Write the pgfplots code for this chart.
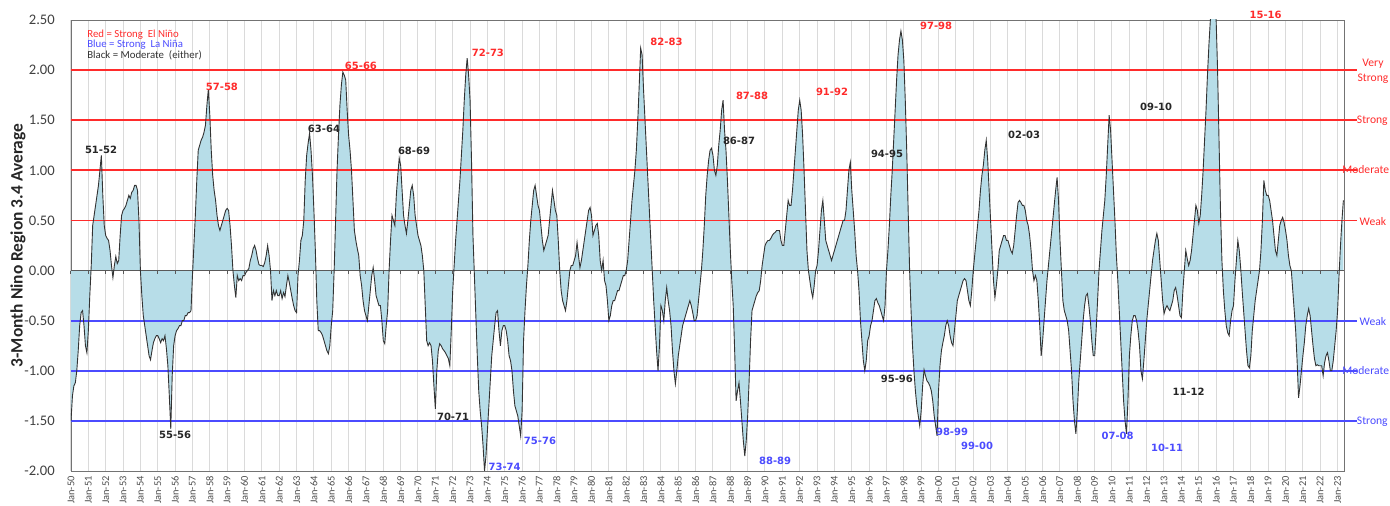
\documentclass[border=0pt]{standalone}
\usepackage{fontspec}
\setmainfont{Carlito}
\newfontfamily\dejavu{DejaVu Sans}
\usepackage{pgfplots}
\usepackage{pgfplotstable}
\pgfplotsset{compat=1.18}

\definecolor{nred}{HTML}{FF2B2B}
\definecolor{nblue}{HTML}{4B4BFF}
\definecolor{fillblue}{HTML}{B7DDE8}
\definecolor{gridgray}{HTML}{DADADA}

% 3-month Nino 3.4 average, one value per month from Jan 1950
\pgfplotstableread[row sep=\\, header=false]{
-1.50\\ -1.25\\ -1.15\\ -1.12\\ -1.00\\ -0.80\\ -0.55\\ -0.42\\ -0.40\\ -0.55\\ -0.75\\ -0.82\\
-0.60\\ -0.25\\ 0.05\\ 0.45\\ 0.55\\ 0.65\\ 0.75\\ 0.85\\ 1.00\\ 1.15\\ 0.75\\ 0.45\\
0.35\\ 0.32\\ 0.30\\ 0.20\\ 0.05\\ -0.07\\ 0.05\\ 0.14\\ 0.07\\ 0.10\\ 0.35\\ 0.55\\
0.60\\ 0.62\\ 0.65\\ 0.70\\ 0.75\\ 0.72\\ 0.78\\ 0.80\\ 0.85\\ 0.85\\ 0.80\\ 0.50\\
0.00\\ -0.25\\ -0.45\\ -0.55\\ -0.65\\ -0.75\\ -0.85\\ -0.89\\ -0.80\\ -0.72\\ -0.68\\ -0.65\\
-0.65\\ -0.68\\ -0.72\\ -0.68\\ -0.70\\ -0.65\\ -0.78\\ -0.95\\ -1.25\\ -1.58\\ -1.05\\ -0.75\\
-0.65\\ -0.60\\ -0.58\\ -0.55\\ -0.55\\ -0.50\\ -0.50\\ -0.45\\ -0.45\\ -0.42\\ -0.42\\ -0.40\\
-0.05\\ 0.25\\ 0.55\\ 0.90\\ 1.20\\ 1.25\\ 1.30\\ 1.33\\ 1.38\\ 1.45\\ 1.65\\ 1.81\\
1.55\\ 1.20\\ 0.95\\ 0.80\\ 0.70\\ 0.55\\ 0.45\\ 0.40\\ 0.45\\ 0.50\\ 0.55\\ 0.60\\
0.62\\ 0.60\\ 0.45\\ 0.25\\ 0.00\\ -0.15\\ -0.27\\ -0.05\\ -0.10\\ -0.08\\ -0.10\\ -0.05\\
-0.05\\ -0.02\\ 0.00\\ 0.02\\ 0.10\\ 0.15\\ 0.22\\ 0.25\\ 0.20\\ 0.12\\ 0.06\\ 0.05\\
0.05\\ 0.04\\ 0.08\\ 0.15\\ 0.25\\ 0.15\\ 0.00\\ -0.30\\ -0.20\\ -0.25\\ -0.20\\ -0.25\\
-0.25\\ -0.20\\ -0.28\\ -0.22\\ -0.26\\ -0.15\\ -0.05\\ -0.12\\ -0.20\\ -0.28\\ -0.35\\ -0.40\\
-0.42\\ -0.05\\ 0.10\\ 0.30\\ 0.35\\ 0.50\\ 0.90\\ 1.15\\ 1.27\\ 1.37\\ 1.20\\ 0.95\\
0.60\\ 0.20\\ -0.30\\ -0.60\\ -0.60\\ -0.62\\ -0.65\\ -0.70\\ -0.75\\ -0.80\\ -0.83\\ -0.75\\
-0.55\\ -0.40\\ 0.00\\ 0.50\\ 1.00\\ 1.35\\ 1.65\\ 1.85\\ 1.98\\ 1.95\\ 1.90\\ 1.60\\
1.35\\ 1.20\\ 1.00\\ 0.70\\ 0.40\\ 0.30\\ 0.22\\ 0.15\\ -0.05\\ -0.15\\ -0.30\\ -0.40\\
-0.45\\ -0.50\\ -0.35\\ -0.20\\ -0.05\\ 0.03\\ -0.10\\ -0.25\\ -0.30\\ -0.35\\ -0.35\\ -0.50\\
-0.70\\ -0.73\\ -0.55\\ -0.40\\ 0.00\\ 0.30\\ 0.55\\ 0.50\\ 0.45\\ 0.75\\ 0.95\\ 1.12\\
1.05\\ 0.80\\ 0.55\\ 0.45\\ 0.37\\ 0.50\\ 0.65\\ 0.80\\ 0.85\\ 0.75\\ 0.55\\ 0.45\\
0.35\\ 0.30\\ 0.25\\ 0.15\\ 0.00\\ -0.35\\ -0.70\\ -0.75\\ -0.72\\ -0.75\\ -0.90\\ -1.15\\
-1.38\\ -1.00\\ -0.80\\ -0.73\\ -0.75\\ -0.78\\ -0.80\\ -0.82\\ -0.85\\ -0.88\\ -0.95\\ -0.60\\
-0.20\\ 0.05\\ 0.30\\ 0.50\\ 0.70\\ 0.90\\ 1.15\\ 1.40\\ 1.70\\ 1.95\\ 2.12\\ 1.95\\
1.70\\ 1.10\\ 0.35\\ -0.05\\ -0.45\\ -0.85\\ -1.20\\ -1.40\\ -1.55\\ -1.75\\ -2.00\\ -1.85\\
-1.60\\ -1.35\\ -1.10\\ -0.85\\ -0.70\\ -0.55\\ -0.42\\ -0.40\\ -0.60\\ -0.75\\ -0.60\\ -0.55\\
-0.55\\ -0.60\\ -0.70\\ -0.85\\ -0.90\\ -1.00\\ -1.20\\ -1.35\\ -1.40\\ -1.45\\ -1.55\\ -1.65\\
-1.40\\ -0.70\\ -0.40\\ -0.15\\ 0.05\\ 0.30\\ 0.50\\ 0.65\\ 0.80\\ 0.85\\ 0.75\\ 0.65\\
0.60\\ 0.45\\ 0.30\\ 0.20\\ 0.25\\ 0.30\\ 0.35\\ 0.50\\ 0.65\\ 0.80\\ 0.70\\ 0.60\\
0.55\\ 0.30\\ 0.00\\ -0.20\\ -0.30\\ -0.35\\ -0.40\\ -0.30\\ -0.15\\ 0.00\\ 0.05\\ 0.05\\
0.10\\ 0.15\\ 0.28\\ 0.15\\ 0.03\\ 0.10\\ 0.20\\ 0.30\\ 0.40\\ 0.50\\ 0.60\\ 0.63\\
0.55\\ 0.35\\ 0.40\\ 0.45\\ 0.47\\ 0.35\\ 0.10\\ 0.00\\ 0.10\\ -0.10\\ -0.15\\ -0.30\\
-0.50\\ -0.45\\ -0.35\\ -0.30\\ -0.30\\ -0.25\\ -0.20\\ -0.20\\ -0.15\\ -0.10\\ -0.05\\ -0.05\\
0.00\\ 0.10\\ 0.30\\ 0.50\\ 0.70\\ 0.85\\ 1.00\\ 1.20\\ 1.50\\ 1.85\\ 2.22\\ 2.15\\
1.80\\ 1.50\\ 1.20\\ 0.90\\ 0.60\\ 0.30\\ 0.00\\ -0.30\\ -0.55\\ -0.80\\ -1.00\\ -0.75\\
-0.35\\ -0.40\\ -0.50\\ -0.30\\ -0.17\\ -0.30\\ -0.40\\ -0.55\\ -0.80\\ -1.00\\ -1.13\\ -1.00\\
-0.85\\ -0.75\\ -0.65\\ -0.55\\ -0.50\\ -0.45\\ -0.40\\ -0.35\\ -0.30\\ -0.35\\ -0.42\\ -0.50\\
-0.50\\ -0.45\\ -0.30\\ -0.15\\ 0.00\\ 0.20\\ 0.45\\ 0.75\\ 0.95\\ 1.10\\ 1.20\\ 1.22\\
1.15\\ 1.00\\ 0.95\\ 1.05\\ 1.25\\ 1.40\\ 1.60\\ 1.70\\ 1.40\\ 1.20\\ 0.90\\ 0.55\\
0.20\\ -0.10\\ -0.35\\ -0.80\\ -1.30\\ -1.20\\ -1.12\\ -1.30\\ -1.50\\ -1.70\\ -1.85\\ -1.70\\
-1.45\\ -1.10\\ -0.70\\ -0.40\\ -0.35\\ -0.30\\ -0.25\\ -0.22\\ -0.20\\ -0.10\\ 0.05\\ 0.15\\
0.25\\ 0.28\\ 0.30\\ 0.30\\ 0.32\\ 0.35\\ 0.37\\ 0.38\\ 0.40\\ 0.40\\ 0.40\\ 0.30\\
0.25\\ 0.25\\ 0.40\\ 0.55\\ 0.70\\ 0.65\\ 0.65\\ 0.80\\ 1.00\\ 1.20\\ 1.40\\ 1.60\\
1.70\\ 1.60\\ 1.35\\ 1.00\\ 0.60\\ 0.20\\ 0.00\\ -0.10\\ -0.20\\ -0.27\\ -0.15\\ 0.00\\
0.05\\ 0.20\\ 0.40\\ 0.60\\ 0.70\\ 0.50\\ 0.30\\ 0.25\\ 0.20\\ 0.15\\ 0.10\\ 0.15\\
0.20\\ 0.25\\ 0.30\\ 0.35\\ 0.40\\ 0.45\\ 0.50\\ 0.50\\ 0.60\\ 0.80\\ 1.00\\ 1.08\\
0.80\\ 0.60\\ 0.40\\ 0.15\\ 0.00\\ -0.20\\ -0.50\\ -0.70\\ -0.90\\ -1.00\\ -0.90\\ -0.70\\
-0.65\\ -0.55\\ -0.50\\ -0.40\\ -0.30\\ -0.28\\ -0.32\\ -0.35\\ -0.40\\ -0.45\\ -0.50\\ -0.35\\
0.00\\ 0.20\\ 0.45\\ 0.75\\ 1.00\\ 1.30\\ 1.60\\ 1.90\\ 2.15\\ 2.30\\ 2.39\\ 2.30\\
2.10\\ 1.70\\ 1.20\\ 0.60\\ 0.00\\ -0.40\\ -0.75\\ -1.00\\ -1.20\\ -1.35\\ -1.45\\ -1.55\\
-1.40\\ -1.15\\ -0.99\\ -1.05\\ -1.10\\ -1.12\\ -1.15\\ -1.20\\ -1.30\\ -1.45\\ -1.55\\ -1.65\\
-1.20\\ -0.95\\ -0.80\\ -0.72\\ -0.65\\ -0.55\\ -0.50\\ -0.55\\ -0.65\\ -0.72\\ -0.75\\ -0.60\\
-0.45\\ -0.30\\ -0.25\\ -0.20\\ -0.15\\ -0.10\\ -0.08\\ -0.10\\ -0.20\\ -0.30\\ -0.35\\ -0.20\\
0.00\\ 0.15\\ 0.30\\ 0.45\\ 0.60\\ 0.80\\ 0.95\\ 1.05\\ 1.20\\ 1.30\\ 1.10\\ 0.80\\
0.50\\ 0.20\\ -0.10\\ -0.27\\ -0.15\\ 0.00\\ 0.20\\ 0.25\\ 0.30\\ 0.35\\ 0.35\\ 0.30\\
0.30\\ 0.25\\ 0.20\\ 0.17\\ 0.25\\ 0.40\\ 0.55\\ 0.68\\ 0.70\\ 0.68\\ 0.65\\ 0.65\\
0.60\\ 0.50\\ 0.45\\ 0.35\\ 0.20\\ 0.00\\ -0.10\\ -0.05\\ -0.10\\ -0.30\\ -0.55\\ -0.85\\
-0.70\\ -0.50\\ -0.30\\ -0.10\\ 0.05\\ 0.20\\ 0.35\\ 0.50\\ 0.65\\ 0.80\\ 0.93\\ 0.70\\
0.30\\ 0.00\\ -0.30\\ -0.40\\ -0.45\\ -0.50\\ -0.60\\ -0.80\\ -1.00\\ -1.30\\ -1.50\\ -1.63\\
-1.40\\ -1.10\\ -0.90\\ -0.70\\ -0.50\\ -0.35\\ -0.25\\ -0.23\\ -0.35\\ -0.50\\ -0.70\\ -0.85\\
-0.85\\ -0.60\\ -0.30\\ 0.00\\ 0.20\\ 0.40\\ 0.55\\ 0.70\\ 0.95\\ 1.25\\ 1.55\\ 1.40\\
1.10\\ 0.80\\ 0.50\\ 0.15\\ -0.10\\ -0.40\\ -0.70\\ -1.00\\ -1.30\\ -1.50\\ -1.63\\ -1.30\\
-0.85\\ -0.65\\ -0.50\\ -0.45\\ -0.45\\ -0.50\\ -0.60\\ -0.75\\ -1.00\\ -1.08\\ -0.90\\ -0.70\\
-0.50\\ -0.35\\ -0.20\\ -0.05\\ 0.10\\ 0.20\\ 0.30\\ 0.37\\ 0.30\\ 0.10\\ -0.10\\ -0.30\\
-0.43\\ -0.38\\ -0.35\\ -0.38\\ -0.40\\ -0.35\\ -0.30\\ -0.20\\ -0.17\\ -0.25\\ -0.35\\ -0.45\\
-0.47\\ -0.20\\ 0.00\\ 0.20\\ 0.12\\ 0.05\\ 0.10\\ 0.20\\ 0.35\\ 0.50\\ 0.65\\ 0.60\\
0.47\\ 0.55\\ 0.75\\ 1.00\\ 1.30\\ 1.60\\ 1.95\\ 2.25\\ 2.50\\ 2.60\\ 2.65\\ 2.60\\
2.50\\ 2.00\\ 1.30\\ 0.60\\ 0.10\\ -0.20\\ -0.40\\ -0.55\\ -0.62\\ -0.65\\ -0.50\\ -0.40\\
-0.35\\ -0.10\\ 0.10\\ 0.30\\ 0.20\\ 0.02\\ -0.20\\ -0.40\\ -0.60\\ -0.80\\ -0.95\\ -0.97\\
-0.85\\ -0.60\\ -0.45\\ -0.30\\ -0.20\\ -0.10\\ 0.00\\ 0.20\\ 0.50\\ 0.90\\ 0.80\\ 0.75\\
0.75\\ 0.70\\ 0.60\\ 0.50\\ 0.35\\ 0.20\\ 0.15\\ 0.30\\ 0.45\\ 0.50\\ 0.53\\ 0.48\\
0.40\\ 0.30\\ 0.15\\ 0.05\\ 0.00\\ -0.20\\ -0.40\\ -0.60\\ -0.90\\ -1.27\\ -1.15\\ -1.00\\
-0.85\\ -0.72\\ -0.55\\ -0.45\\ -0.38\\ -0.45\\ -0.60\\ -0.75\\ -0.88\\ -0.95\\ -0.94\\ -0.95\\
-0.95\\ -0.95\\ -1.05\\ -0.92\\ -0.85\\ -0.82\\ -0.90\\ -1.00\\ -1.00\\ -0.90\\ -0.75\\ -0.60\\
-0.40\\ -0.05\\ 0.25\\ 0.50\\ 0.70\\
}\oni

\newcommand\ann[4]{\node[font=\dejavu\bfseries\fontsize{5}{6}\selectfont, text=#4] at (axis cs:#1,#2) {#3};}

\begin{document}
\begin{tikzpicture}
\begin{axis}[
    scale only axis,
    width=636.5pt, height=225.5pt,
    at={(0,0)}, anchor=south west,
    xmin=1950, xmax=2023.37,
    ymin=-2, ymax=2.5,
    clip mode=individual,
    axis line style={black!55},
    major tick length=0pt,
    xtick={1950,...,2023},
    xticklabels={Jan-50,Jan-51,Jan-52,Jan-53,Jan-54,Jan-55,Jan-56,Jan-57,Jan-58,Jan-59,
        Jan-60,Jan-61,Jan-62,Jan-63,Jan-64,Jan-65,Jan-66,Jan-67,Jan-68,Jan-69,
        Jan-70,Jan-71,Jan-72,Jan-73,Jan-74,Jan-75,Jan-76,Jan-77,Jan-78,Jan-79,
        Jan-80,Jan-81,Jan-82,Jan-83,Jan-84,Jan-85,Jan-86,Jan-87,Jan-88,Jan-89,
        Jan-90,Jan-91,Jan-92,Jan-93,Jan-94,Jan-95,Jan-96,Jan-97,Jan-98,Jan-99,
        Jan-00,Jan-01,Jan-02,Jan-03,Jan-04,Jan-05,Jan-06,Jan-07,Jan-08,Jan-09,
        Jan-10,Jan-11,Jan-12,Jan-13,Jan-14,Jan-15,Jan-16,Jan-17,Jan-18,Jan-19,
        Jan-20,Jan-21,Jan-22,Jan-23},
    xticklabel style={rotate=90, anchor=east, inner sep=2.5pt,
        font=\fontsize{5.2}{6}\selectfont, text=black!70},
    xmajorgrids,
    grid style={gridgray, line width=0.5pt},
    ytick={-2,-1.5,-1,-0.5,0,0.5,1,1.5,2,2.5},
    yticklabel style={/pgf/number format/fixed,
        /pgf/number format/fixed zerofill,
        /pgf/number format/precision=2,
        font=\fontsize{7.3}{8}\selectfont, text=black!75, xshift=-4.6pt},
    /pgf/number format/assume math mode=true,
    ylabel={\textbf{3-Month Nino Region 3.4 Average}},
    ylabel style={at={(axis description cs:-0.0416,0.5)}, anchor=center,
        font=\fontsize{8.7}{10}\selectfont, text=black!85},
]

\addplot[draw=none, fill=fillblue] table[x expr=1950+\coordindex/12, y index=0] {\oni} \closedcycle;

\draw[black!65, line width=0.6pt] (axis cs:1950,0) -- (axis cs:2023.37,0);
\pgfplotsinvokeforeach{1950,...,2023}{
  \draw[black!65, line width=0.5pt] (axis cs:#1,0) -- ++(0pt,-1.6pt);
}

\draw[nred, line width=0.9pt] (axis cs:1950,0.5) -- (axis cs:2024.12,0.5);
\draw[nred, line width=0.9pt] (axis cs:1950,1) -- (axis cs:2024.12,1);
\draw[nred, line width=0.9pt] (axis cs:1950,1.5) -- (axis cs:2024.12,1.5);
\draw[nred, line width=0.9pt] (axis cs:1950,2) -- (axis cs:2024.12,2);
\draw[nblue, line width=0.9pt] (axis cs:1950,-0.5) -- (axis cs:2024.12,-0.5);
\draw[nblue, line width=0.9pt] (axis cs:1950,-1) -- (axis cs:2024.12,-1);
\draw[nblue, line width=0.9pt] (axis cs:1950,-1.5) -- (axis cs:2024.12,-1.5);

\addplot[black!80, line width=0.45pt] table[x expr=1950+\coordindex/12, y index=0] {\oni};

% legend text
\node[anchor=west, text=nred, font=\fontsize{5.4}{6}\selectfont, inner sep=0pt] at (axis cs:1950.92,2.35) {Red = Strong\ \ El Niño};
\node[anchor=west, text=nblue, font=\fontsize{5.4}{6}\selectfont, inner sep=0pt] at (axis cs:1950.92,2.25) {Blue = Strong\ \ La Niña};
\node[anchor=west, text=black!80, font=\fontsize{5.4}{6}\selectfont, inner sep=0pt] at (axis cs:1950.92,2.15) {Black = Moderate\ \ (either)};

% right side labels
\node[text=nred, font=\fontsize{5.8}{6.5}\selectfont, inner sep=0pt, align=center] at (axis cs:2025.04,1.99) {Very\\[1pt]Strong};
\node[text=nred, font=\fontsize{5.8}{6.5}\selectfont, inner sep=0pt] at (axis cs:2025.00,1.49) {Strong};
\node[text=nred, font=\fontsize{5.8}{6.5}\selectfont, inner sep=0pt] at (axis cs:2024.62,1.01) {Moderate};
\node[text=nred, font=\fontsize{5.8}{6.5}\selectfont, inner sep=0pt] at (axis cs:2025.04,0.49) {Weak};
\node[text=nblue, font=\fontsize{5.8}{6.5}\selectfont, inner sep=0pt] at (axis cs:2025.04,-0.51) {Weak};
\node[text=nblue, font=\fontsize{5.8}{6.5}\selectfont, inner sep=0pt] at (axis cs:2024.62,-1.00) {Moderate};
\node[text=nblue, font=\fontsize{5.8}{6.5}\selectfont, inner sep=0pt] at (axis cs:2025.00,-1.51) {Strong};

% event labels
\ann{1951.73}{1.20}{51-52}{black!85}
\ann{1958.70}{1.83}{57-58}{nred}
\ann{1964.58}{1.41}{63-64}{black!85}
\ann{1966.71}{2.04}{65-66}{nred}
\ann{1969.77}{1.19}{68-69}{black!85}
\ann{1956.00}{-1.64}{55-56}{black!85}
\ann{1972.02}{-1.46}{70-71}{black!85}
\ann{1974.03}{2.17}{72-73}{nred}
\ann{1974.99}{-1.96}{73-74}{nblue}
\ann{1977.03}{-1.70}{75-76}{nblue}
\ann{1984.32}{2.28}{82-83}{nred}
\ann{1988.50}{1.29}{86-87}{black!85}
\ann{1989.25}{1.74}{87-88}{nred}
\ann{1990.58}{-1.90}{88-89}{nblue}
\ann{1993.86}{1.78}{91-92}{nred}
\ann{1997.03}{1.16}{94-95}{black!85}
\ann{1997.60}{-1.08}{95-96}{black!85}
\ann{1999.86}{2.44}{97-98}{nred}
\ann{2000.78}{-1.61}{98-99}{nblue}
\ann{2002.22}{-1.75}{99-00}{nblue}
\ann{2004.93}{1.35}{02-03}{black!85}
\ann{2010.32}{-1.65}{07-08}{nblue}
\ann{2012.54}{1.63}{09-10}{black!85}
\ann{2013.17}{-1.77}{10-11}{nblue}
\ann{2014.41}{-1.21}{11-12}{black!85}
\ann{2018.85}{2.55}{15-16}{nred}
\end{axis}
\pgfresetboundingbox
\path[use as bounding box] (-35.5pt,-17.5pt) rectangle (659.5pt,235.5pt);
\end{tikzpicture}
\end{document}
